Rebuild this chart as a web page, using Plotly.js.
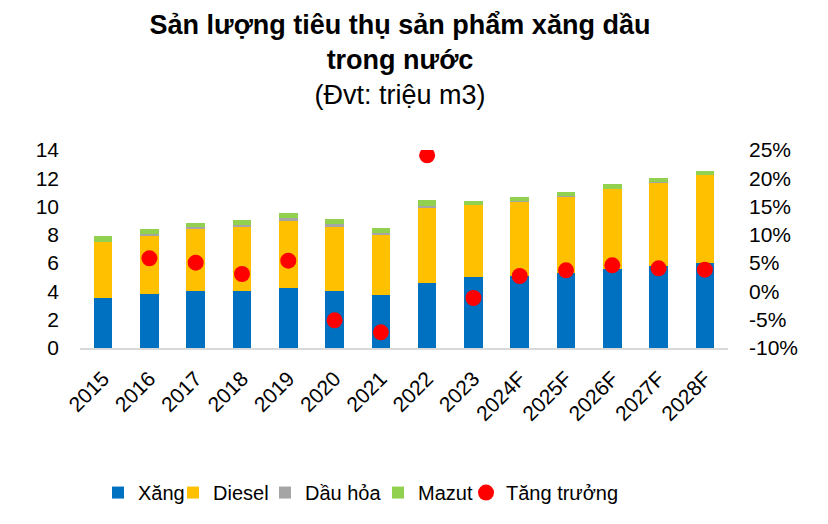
<!DOCTYPE html>
<html><head><meta charset="utf-8">
<script src="https://cdn.plot.ly/plotly-3.0.1.min.js"></script>
<style>html,body{margin:0;padding:0;background:#fff}#chart{width:828px;height:524px}</style>
</head><body><div id="chart"></div>
<script>
const years = ["2015","2016","2017","2018","2019","2020","2021","2022","2023","2024F","2025F","2026F","2027F","2028F"];
const xang   = [3.57,3.81,4.02,4.00,4.23,4.00,3.74,4.63,5.01,5.08,5.30,5.56,5.77,6.00];
const diesel = [3.90,4.13,4.42,4.56,4.78,4.58,4.23,5.25,5.08,5.25,5.41,5.67,5.91,6.20];
const dauHoa = [0.03,0.14,0.12,0.17,0.19,0.17,0.17,0.19,0.05,0.03,0.03,0.03,0.03,0.03];
const mazut  = [0.40,0.31,0.26,0.35,0.37,0.35,0.32,0.40,0.26,0.33,0.32,0.32,0.32,0.30];
const tangTruong = [null,5.85,5.09,3.08,5.44,-5.11,-7.23,24.06,-1.16,2.73,3.73,4.61,4.08,3.85];
const leftTicks = [0,2,4,6,8,10,12,14];
const rightTickVals = [-10,-5,0,5,10,15,20,25];
const rightTickText = ["-10%","-5%","0%","5%","10%","15%","20%","25%"];

const F = "Liberation Sans, Arial, sans-serif";
const traces = [
  {type:"bar", name:"Xăng", x:years, y:xang, marker:{color:"#0070C0"}, legend:"legend"},
  {type:"bar", name:"Diesel", x:years, y:diesel, marker:{color:"#FFC000"}, legend:"legend2"},
  {type:"bar", name:"Dầu hỏa", x:years, y:dauHoa, marker:{color:"#A5A5A5"}, legend:"legend3"},
  {type:"bar", name:"Mazut", x:years, y:mazut, marker:{color:"#92D050"}, legend:"legend4"},
  {type:"scatter", mode:"markers", name:"Tăng trưởng", x:years, y:tangTruong, yaxis:"y2",
   marker:{color:"#FF0000", size:16}, legend:"legend5"}
];
function lg(px){
  return {orientation:"h", x:px/828, xref:"container", xanchor:"left", y:0.06, yref:"container", yanchor:"middle",
          font:{size:20}, itemwidth:30, bgcolor:"rgba(0,0,0,0)"};
}
const layout = {
  width:828, height:524,
  margin:{l:79.5, r:100, t:150, b:176},
  paper_bgcolor:"#fff", plot_bgcolor:"#fff",
  font:{family:F, color:"#000", size:21},
  barmode:"stack", bargap:0.6,
  showlegend:true,
  title:{text:"<b>Sản lượng tiêu thụ sản phẩm xăng dầu<br>trong nước</b><br>(Đvt: triệu m3)",
         font:{family:F, size:27, color:"#000"}, x:400/828, xanchor:"center", xref:"container",
         y:0.935, yanchor:"top", yref:"container"},
  xaxis:{type:"category", range:[-0.5, years.length-0.5], tickangle:-45, showline:true, linecolor:"#D9D9D9", linewidth:2,
         ticks:"", showgrid:false, tickfont:{size:21}, automargin:false, ticklabelstandoff:8},
  yaxis:{range:[0,14], tickvals:leftTicks, showgrid:false, zeroline:false, showline:false,
         ticks:"", ticklabelstandoff:20, tickfont:{size:21}, automargin:false},
  yaxis2:{range:[-10,25], overlaying:"y", side:"right", tickvals:rightTickVals, ticktext:rightTickText,
          showgrid:false, zeroline:false, showline:false, ticks:"", ticklabelstandoff:20, tickfont:{size:21}, automargin:false},
  legend:lg(98), legend2:lg(173), legend3:lg(265), legend4:lg(378), legend5:lg(466)
};
Plotly.newPlot("chart", traces, layout, {staticPlot:true, displayModeBar:false});
</script></body></html>
